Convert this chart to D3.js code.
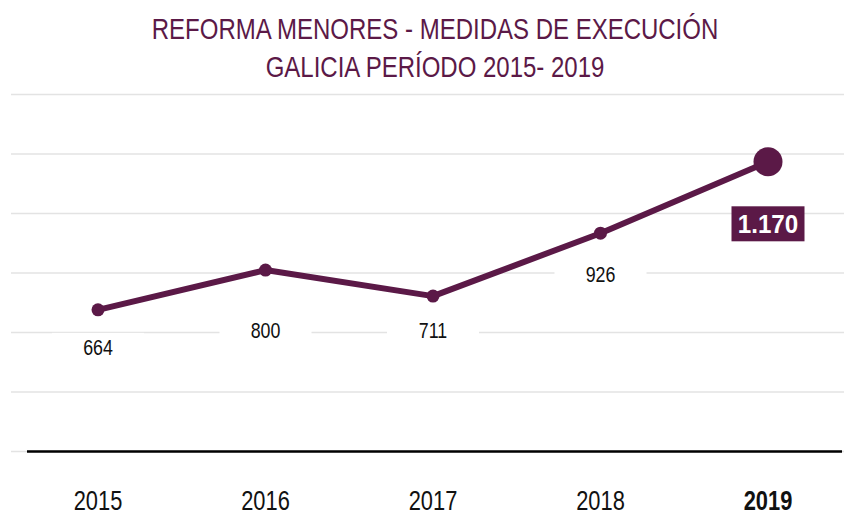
<!DOCTYPE html>
<html>
<head>
<meta charset="utf-8">
<script src="https://cdn.jsdelivr.net/npm/d3@7/dist/d3.min.js"></script>
<style>
  html, body { margin: 0; padding: 0; background: #fff; }
  svg { display: block; }
  text { font-family: "Liberation Sans", Arial, sans-serif; }
</style>
</head>
<body>
<svg id="chart" width="844" height="516"></svg>
<script>
// Chart data
const years = ["2015", "2016", "2017", "2018", "2019"];
const values = [664, 800, 711, 926, 1170];
const valueLabels = ["664", "800", "711", "926", "1.170"];
const titleLines = ["REFORMA MENORES - MEDIDAS DE EXECUCIÓN", "GALICIA PERÍODO 2015- 2019"];

// Label placement (pixel offsets below each point)
const labelOffsets = [37, 60, 34, 41, 62];

const purple = "#5b1947";
const narrow = 0.81; // horizontal squeeze giving a condensed face
const svg = d3.select("#chart");

const x = d3.scalePoint().domain(years).range([98, 768]);
const y = d3.scaleLinear().domain([180, 1400]).range([451.5, 94.5]);

// Horizontal gridlines, evenly spaced across the plot height
const [yBottom, yTop] = y.range();
const gridYs = d3.range(7).map(i => yBottom + (yTop - yBottom) * i / 6);
svg.append("g")
  .selectAll("line")
  .data(gridYs)
  .join("line")
  .attr("x1", 11).attr("x2", 844)
  .attr("y1", d => d).attr("y2", d => d)
  .attr("stroke", "#e3e3e3")
  .attr("stroke-width", 1.5);

// White boxes behind the plain value labels
const last = values.length - 1;
const labelY = i => y(values[i]) + labelOffsets[i];
svg.append("g")
  .selectAll("rect")
  .data(values.slice(0, last))
  .join("rect")
  .attr("x", (d, i) => x(years[i]) - 46)
  .attr("y", (d, i) => labelY(i) - 14)
  .attr("width", 92)
  .attr("height", 28)
  .attr("fill", "#fff");

// Baseline axis
svg.append("line")
  .attr("x1", 27).attr("x2", 842)
  .attr("y1", yBottom).attr("y2", yBottom)
  .attr("stroke", "#000")
  .attr("stroke-width", 2.5);

// Series line
const line = d3.line().x((d, i) => x(years[i])).y(d => y(d));
svg.append("path")
  .datum(values)
  .attr("d", line)
  .attr("fill", "none")
  .attr("stroke", purple)
  .attr("stroke-width", 6)
  .attr("stroke-linejoin", "round");

// Point markers, the latest year highlighted
svg.append("g")
  .selectAll("circle")
  .data(values)
  .join("circle")
  .attr("cx", (d, i) => x(years[i]))
  .attr("cy", d => y(d))
  .attr("r", (d, i) => i === last ? 14.5 : 6.5)
  .attr("fill", purple);

// Value labels
svg.append("g")
  .selectAll("text")
  .data(valueLabels.slice(0, last))
  .join("text")
  .attr("transform", (d, i) => `translate(${x(years[i])},${labelY(i)}) scale(${narrow},1)`)
  .attr("dy", "0.36em")
  .attr("text-anchor", "middle")
  .attr("font-size", 22)
  .attr("fill", "#111")
  .text(d => d);

// Highlighted label for the latest value
const hx = x(years[last]), hy = labelY(last);
svg.append("rect")
  .attr("x", hx - 36.5).attr("y", hy - 17.5)
  .attr("width", 73).attr("height", 35)
  .attr("fill", purple);
svg.append("text")
  .attr("transform", `translate(${hx},${hy}) scale(0.93,1)`)
  .attr("dy", "0.36em")
  .attr("text-anchor", "middle")
  .attr("font-size", 26)
  .attr("font-weight", "bold")
  .attr("fill", "#fff")
  .text(valueLabels[last]);

// Category axis labels
svg.append("g")
  .selectAll("text")
  .data(years)
  .join("text")
  .attr("transform", d => `translate(${x(d)},510) scale(${narrow},1)`)
  .attr("text-anchor", "middle")
  .attr("font-size", 27)
  .attr("font-weight", (d, i) => i === last ? "bold" : "normal")
  .attr("fill", "#111")
  .text(d => d);

// Title
svg.append("g")
  .selectAll("text")
  .data(titleLines)
  .join("text")
  .attr("transform", (d, i) => `translate(435,${39 + i * 38}) scale(0.8,1)`)
  .attr("text-anchor", "middle")
  .attr("font-size", 30)
  .attr("fill", purple)
  .text(d => d);
</script>
</body>
</html>
